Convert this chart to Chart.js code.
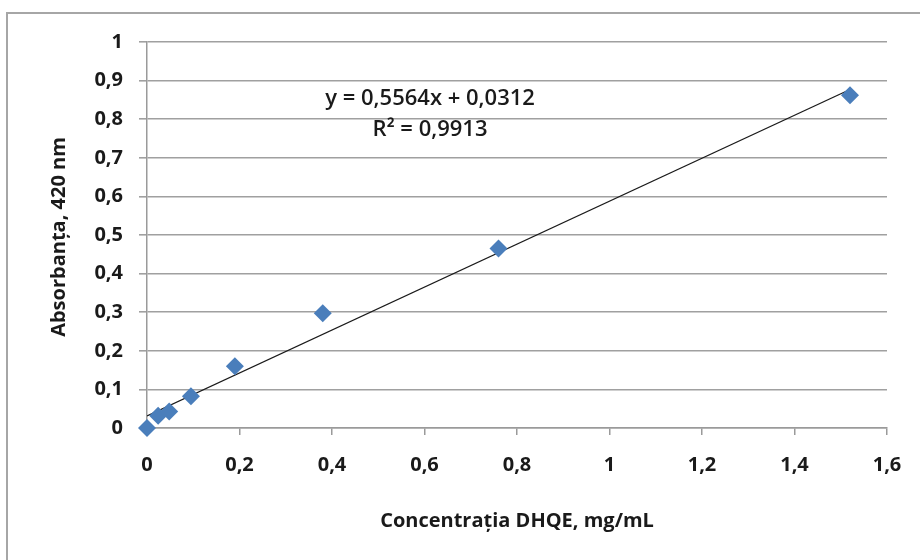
<!DOCTYPE html>
<html>
<head>
<meta charset="utf-8">
<script src="https://cdn.jsdelivr.net/npm/chart.js@4/dist/chart.umd.min.js"></script>
<style>
  html, body { margin: 0; padding: 0; background: #fff; }
  #wrap { position: relative; width: 920px; height: 560px; overflow: hidden; }
  #frame { position: absolute; left: 6px; top: 12px; width: 940px; height: 600px; border: 2px solid #a6a6a6; box-sizing: border-box; }
  canvas { position: absolute; left: 0; top: 0; }
</style>
</head>
<body>
<div id="wrap">
  <div id="frame"></div>
  <canvas id="c" width="920" height="560"></canvas>
</div>
<script>
/* ── Data ─────────────────────────────────────────────────── */
const concX = [0, 0.024, 0.048, 0.095, 0.19, 0.38, 0.76, 1.52];
const absY = [0, 0.032, 0.043, 0.082, 0.16, 0.297, 0.465, 0.862];
const trendX = [0, 1.52];
const trendY = [0.0312, 0.877];
const xTicks = [0, 0.2, 0.4, 0.6, 0.8, 1, 1.2, 1.4, 1.6];
const yTicks = [0, 0.1, 0.2, 0.3, 0.4, 0.5, 0.6, 0.7, 0.8, 0.9, 1];
const eqLines = ['y = 0,5564x + 0,0312', 'R² = 0,9913'];
const eqPos = [[0.612, 0.852], [0.612, 0.773]];
const xTitle = 'Concentrația DHQE, mg/mL';
const yTitle = 'Absorbanța, 420 nm';

const FONT = '"Open Sans", "Liberation Sans", sans-serif';
const fmt = v => String(+v.toFixed(2)).replace('.', ',');

/* ── Labels plugin (equation + axis titles) ───────────────── */
const labelsPlugin = {
    id: 'labels',
    afterDraw(chart) {
        const { ctx, scales: { x, y }, chartArea } = chart;
        ctx.save();
        ctx.fillStyle = '#1a1a1a';
        ctx.textAlign = 'center';
        ctx.textBaseline = 'middle';
        ctx.font = `600 22px ${FONT}`;
        eqLines.forEach((t, i) => {
            ctx.fillText(t, x.getPixelForValue(eqPos[i][0]), y.getPixelForValue(eqPos[i][1]));
        });
        ctx.font = `bold 20px ${FONT}`;
        ctx.fillText(xTitle, 517, 521);
        ctx.translate(59, (chartArea.top + chartArea.bottom) / 2 + 2);
        ctx.rotate(-Math.PI / 2);
        ctx.fillText(yTitle, 0, 0);
        ctx.restore();
    }
};

new Chart(document.getElementById('c').getContext('2d'), {
    type: 'scatter',
    data: {
        datasets: [
            {
                label: 'trend', type: 'line',
                data: trendX.map((v, i) => ({ x: v, y: trendY[i] })),
                borderColor: '#1a1a1a', borderWidth: 1.3, pointRadius: 0, fill: false, order: 2,
            },
            {
                label: 'abs', clip: false,
                data: concX.map((v, i) => ({ x: v, y: absY[i] })),
                pointStyle: 'rectRot', pointRadius: 9, pointHoverRadius: 9,
                backgroundColor: '#4a7ebb', borderColor: '#4a7ebb', borderWidth: 0, order: 1,
            },
        ],
    },
    options: {
        responsive: false, animation: false,
        layout: { padding: { left: 0, right: 33, top: 42, bottom: 0 } },
        plugins: { legend: { display: false }, tooltip: { enabled: false } },
        scales: {
            x: {
                type: 'linear', min: 0, max: 1.6,
                afterBuildTicks: s => { s.ticks = xTicks.map(v => ({ value: v })); },
                afterFit: s => { s.height = 132; },
                grid: { drawOnChartArea: false, drawTicks: true, tickLength: 7, color: '#9a9a9a', lineWidth: 1.5 },
                border: { color: '#9a9a9a', width: 1.5 },
                ticks: { color: '#1a1a1a', font: { family: FONT, size: 20, weight: 'bold' }, padding: 18, callback: v => fmt(v) },
            },
            y: {
                type: 'linear', min: 0, max: 1,
                afterBuildTicks: s => { s.ticks = yTicks.map(v => ({ value: v })); },
                afterFit: s => { s.width = 147; },
                grid: { color: '#a0a0a0', lineWidth: 1.6, tickLength: 8 },
                border: { color: '#9a9a9a', width: 1.5 },
                ticks: { color: '#1a1a1a', font: { family: FONT, size: 20, weight: 'bold' }, padding: 16, callback: v => fmt(v) },
            },
        },
    },
    plugins: [labelsPlugin],
});
</script>
</body>
</html>
